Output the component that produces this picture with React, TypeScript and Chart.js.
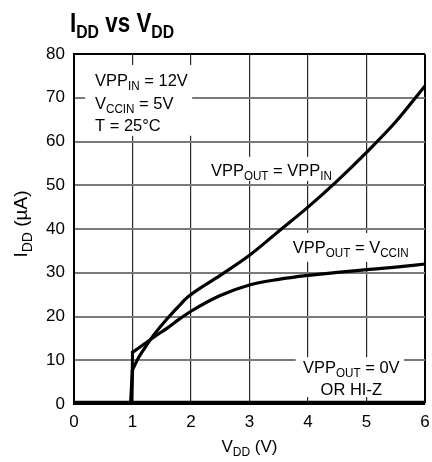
import React, { useEffect, useRef } from "react";
import { Chart, registerables } from "chart.js";
Chart.register(...registerables);

// ---- data ----
const xTicks = [0, 1, 2, 3, 4, 5, 6];
const yTicks = [0, 10, 20, 30, 40, 50, 60, 70, 80];

// VPP_OUT = VPP_IN  (first three points: the step at 1V)
const vppInV = [0, 0.97, 1.0, 1.1, 1.2, 1.3, 1.4, 1.6, 1.8, 1.95, 2.5, 3.0, 3.5, 4.0, 4.5, 5.0, 5.5, 6.0];
const vppInI = [0.3, 0.3, 7.8, 10.5, 12.6, 14.6, 16.4, 19.6, 22.5, 24.5, 29.4, 34, 39.5, 45, 51, 57.5, 64.5, 72.7];

// VPP_OUT = V_CCIN  (first two points: the step at 1V)
const vccInV = [0.99, 1.0, 1.2, 1.4, 1.6, 1.8, 2.0, 2.5, 3.0, 3.5, 4.0, 4.5, 5.0, 5.5, 6.0];
const vccInI = [0.3, 11.8, 13.7, 15.6, 17.4, 19.4, 21.2, 24.8, 27.2, 28.5, 29.4, 30.1, 30.7, 31.3, 32];

// VPP_OUT = 0V or HI-Z
const offV = [0, 6];
const offI = [0.3, 0.3];

const FONT = '"Liberation Sans Narrow", "Liberation Sans", Arial, sans-serif';

type Seg = [string, boolean];

function fontStr(size: number, bold: boolean) {
  return `${bold ? "bold " : ""}${size}px ${FONT}`;
}

function drawRich(
  ctx: CanvasRenderingContext2D,
  segs: Seg[],
  x: number,
  y: number,
  size: number,
  align: "left" | "center" | "right",
  bold = false,
  sx = 1
) {
  const sub = Math.round(size * 0.72);
  const off = size * 0.24;
  let w = 0;
  const widths = segs.map(([t, s]) => {
    ctx.font = fontStr(s ? sub : size, bold);
    const m = ctx.measureText(t).width;
    w += m;
    return m;
  });
  ctx.save();
  ctx.translate(x, y);
  ctx.scale(sx, 1);
  let cx = align === "left" ? 0 : align === "center" ? -w / 2 : -w;
  ctx.textAlign = "left";
  ctx.textBaseline = "alphabetic";
  ctx.fillStyle = "#000";
  segs.forEach(([t, s], i) => {
    ctx.font = fontStr(s ? sub : size, bold);
    ctx.fillText(t, cx, s ? off : 0);
    cx += widths[i];
  });
  ctx.restore();
}

type Note = {
  box: [number, number, number, number];
  lines: { x: number; y: number; align: "left" | "center" | "right"; segs: Seg[] }[];
};

const notes: Note[] = [
  {
    box: [0.19, 77.5, 2.02, 61.3],
    lines: [
      { x: 0.36, y: 72.7, align: "left", segs: [["VPP", false], ["IN", true], [" = 12V", false]] },
      { x: 0.36, y: 67.5, align: "left", segs: [["V", false], ["CCIN", true], [" = 5V", false]] },
      { x: 0.36, y: 62.5, align: "left", segs: [["T = 25°C", false]] },
    ],
  },
  {
    box: [2.24, 56.5, 4.48, 51.0],
    lines: [
      { x: 2.34, y: 52.1, align: "left", segs: [["VPP", false], ["OUT", true], [" = VPP", false], ["IN", true]] },
    ],
  },
  {
    box: [3.67, 39.1, 5.83, 32.5],
    lines: [
      { x: 3.74, y: 34.5, align: "left", segs: [["VPP", false], ["OUT", true], [" = V", false], ["CCIN", true]] },
    ],
  },
  {
    box: [3.79, 10.7, 5.64, 1.6],
    lines: [
      { x: 4.74, y: 7.1, align: "center", segs: [["VPP", false], ["OUT", true], [" = 0V", false]] },
      { x: 4.74, y: 2.1, align: "center", segs: [["OR HI-Z", false]] },
    ],
  },
];

const notesPlugin = {
  id: "notes",
  beforeDatasetsDraw(chart: any) {
    const ctx: CanvasRenderingContext2D = chart.ctx;
    const xs = chart.scales.x;
    const ys = chart.scales.y;
    notes.forEach((n) => {
      const x1 = xs.getPixelForValue(n.box[0]);
      const y1 = ys.getPixelForValue(n.box[1]);
      const x2 = xs.getPixelForValue(n.box[2]);
      const y2 = ys.getPixelForValue(n.box[3]);
      ctx.save();
      ctx.fillStyle = "#fff";
      ctx.fillRect(x1, y1, x2 - x1, y2 - y1);
      ctx.restore();
      n.lines.forEach((l) => {
        drawRich(ctx, l.segs, xs.getPixelForValue(l.x), ys.getPixelForValue(l.y), 17, l.align, false, 0.97);
      });
    });
  },
  afterDraw(chart: any) {
    const ctx: CanvasRenderingContext2D = chart.ctx;
    const ca = chart.chartArea;
    // title
    drawRich(ctx, [["I", false], ["DD", true], [" vs V", false], ["DD", true]], 70, 32, 27, "left", true, 0.83);
    // x title
    drawRich(ctx, [["V", false], ["DD", true], [" (V)", false]], (ca.left + ca.right) / 2, 452, 17, "center");
    // y title
    ctx.save();
    ctx.translate(27, (ca.top + ca.bottom) / 2 - 5);
    ctx.rotate(-Math.PI / 2);
    drawRich(ctx, [["I", false], ["DD", true], [" (µA)", false]], 0, 0, 19, "center");
    ctx.restore();
  },
};

export default function App() {
  const ref = useRef<HTMLCanvasElement>(null);
  useEffect(() => {
    const mk = (xs: number[], ys: number[]) => xs.map((x, i) => ({ x, y: ys[i] }));
    const base = { borderColor: "#000", pointRadius: 0, fill: false, borderJoinStyle: "round", borderCapStyle: "round" };
    const straight = { ...base, tension: 0 };
    const smooth = { ...base, cubicInterpolationMode: "monotone" };
    const chart = new Chart(ref.current!, {
      type: "line",
      data: {
        datasets: [
          { ...straight, data: mk(offV, offI), borderWidth: 4 },
          { ...straight, data: mk(vppInV.slice(0, 3), vppInI.slice(0, 3)), borderWidth: 3.4 },
          { ...smooth, data: mk(vppInV.slice(2), vppInI.slice(2)), borderWidth: 3.2 },
          { ...straight, data: mk(vccInV.slice(0, 2), vccInI.slice(0, 2)), borderWidth: 3 },
          { ...smooth, data: mk(vccInV.slice(1), vccInI.slice(1)), borderWidth: 3.2 },
        ] as any,
      },
      options: {
        animation: false,
        responsive: false,
        devicePixelRatio: 1,
        layout: { padding: { top: 54, right: 7, left: 0, bottom: 0 } },
        plugins: { legend: { display: false }, tooltip: { enabled: false }, title: { display: false } },
        scales: {
          x: {
            type: "linear",
            min: 0,
            max: 6,
            afterBuildTicks: (s: any) => {
              s.ticks = xTicks.map((v) => ({ value: v }));
            },
            afterFit: (s: any) => {
              s.height = 58;
              s.paddingLeft = 0;
              s.paddingRight = 0;
            },
            ticks: { color: "#000", padding: 8, font: { family: FONT, size: 17 }, maxRotation: 0 },
            grid: {
              drawTicks: false,
              color: (c: any) => (c.tick && c.tick.value === 6 ? "#000" : "#2a2a2a"),
              lineWidth: (c: any) => (c.tick && c.tick.value === 6 ? 2 : 1.2),
            },
            border: { display: true, color: "#000", width: 2 },
          },
          y: {
            type: "linear",
            min: 0,
            max: 80,
            afterBuildTicks: (s: any) => {
              s.ticks = yTicks.map((v) => ({ value: v }));
            },
            afterFit: (s: any) => {
              s.width = 74;
              s.paddingTop = 0;
              s.paddingBottom = 0;
            },
            ticks: { color: "#000", padding: 9, font: { family: FONT, size: 17 } },
            grid: {
              drawTicks: false,
              color: (c: any) => (c.tick && c.tick.value === 80 ? "#000" : "#7a7a7a"),
              lineWidth: 2,
            },
            border: { display: true, color: "#000", width: 2 },
          },
        },
      },
      plugins: [notesPlugin],
    });
    return () => chart.destroy();
  }, []);
  return (
    <div style={{ position: "absolute", left: 0, top: 0, width: 432, height: 462, background: "#fff" }}>
      <canvas ref={ref} width={432} height={462} style={{ display: "block" }} />
    </div>
  );
}
